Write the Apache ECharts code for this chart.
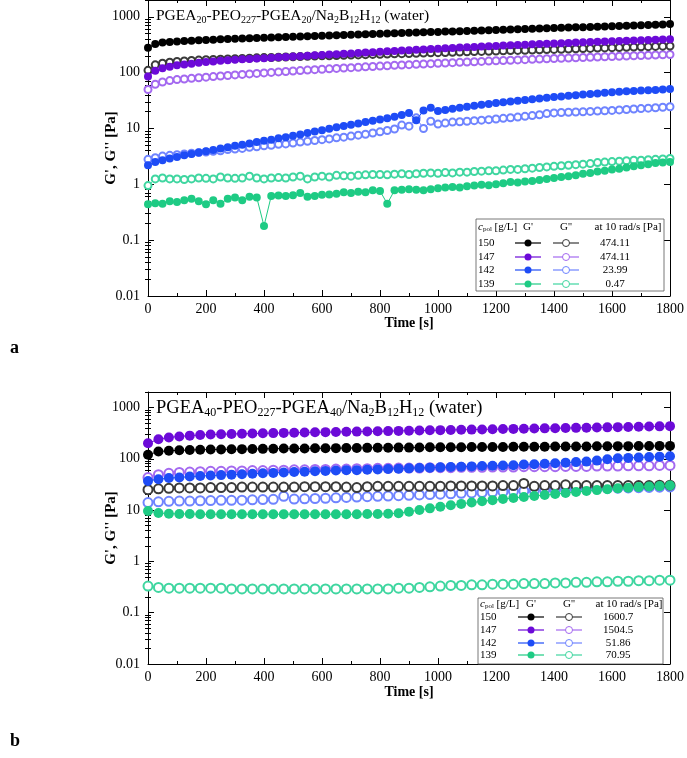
<!DOCTYPE html>
<html>
<head>
<meta charset="utf-8">
<script src="https://cdn.jsdelivr.net/npm/echarts@6.0.0/dist/echarts.min.js"></script>
<style>
  html, body { margin: 0; padding: 0; background: #fff; }
  #main { width: 687px; height: 758px; }
</style>
</head>
<body>
<div id="main"></div>
<script>
// ---- data (panel a: 25 s steps, panel b: 36 s steps) ----
var timeA = [0,25,50,75,100,125,150,175,200,225,250,275,300,325,350,375,400,425,450,475,500,525,550,575,
  600,625,650,675,700,725,750,775,800,825,850,875,900,925,950,975,1000,1025,1050,1075,1100,1125,1150,1175,
  1200,1225,1250,1275,1300,1325,1350,1375,1400,1425,1450,1475,1500,1525,1550,1575,1600,1625,1650,1675,
  1700,1725,1750,1775,1800];

var a150G1 = [280,325,345,355,362,368,374,380,385,390,395,400,
  405,410,414,419,423,428,432,437,441,446,450,455,
  460,464,469,473,478,483,488,492,497,502,507,512,
  517,522,527,532,537,543,548,553,559,564,570,575,
  581,587,592,598,604,610,616,622,628,634,641,647,
  653,660,667,673,680,687,694,701,708,716,723,731,
  740];
var a150G2 = [110,138,148,154,158,162,165,168,170,172,174,176,
  178,180,182,184,186,187,189,191,193,194,196,198,
  200,201,203,205,206,208,210,212,213,215,217,219,
  220,222,224,226,228,230,232,234,236,238,240,242,
  244,246,248,250,252,254,256,259,261,263,265,268,
  270,272,275,277,280,282,285,287,290,292,295,298,
  300];
var a147G1 = [85,108,120,128,135,140,145,150,155,159,163,167,
  170,173,176,179,182,185,188,191,194,197,200,204,
  207,211,214,218,221,225,229,233,237,241,245,249,
  253,257,261,265,269,273,277,281,285,289,293,297,
  301,305,309,313,317,321,325,329,333,337,341,345,
  349,353,357,361,365,369,373,377,381,385,389,393,
  397];
var a147G2 = [50,62,68,72,75,77,79,81,83,85,87,89,
  91,93,95,97,99,101,103,105,107,109,111,113,
  115,117,119,121,123,125,127,129,131,133,135,137,
  139,141,143,145,147,149,151,153,155,157,159,161,
  163,165,167,169,171,173,175,177,179,181,183,185,
  187,189,191,193,195,197,199,201,203,205,207,209,
  211];
var a142G1 = [2.2,2.5,2.7,2.9,3.1,3.3,3.5,3.7,3.9,4.1,4.4,4.6,
  4.9,5.1,5.4,5.7,6.0,6.3,6.7,7.0,7.4,7.8,8.3,8.8,
  9.3,9.9,10.5,11.1,11.7,12.3,13.0,13.7,14.5,15.3,16.3,17.5,
  19.0,14.0,21.0,23.5,20.5,21.5,22.5,23.5,24.5,25.5,26.5,27.5,
  28.5,29.5,30.5,31.5,32.5,33.5,34.5,35.5,36.5,37.5,38.5,39.5,
  40.5,41.5,42.5,43.5,44.5,45.5,46.5,47,48,48.5,49,50,
  51];
var a142G2 = [2.8,3.0,3.2,3.3,3.4,3.5,3.6,3.7,3.8,3.9,4.0,4.2,
  4.3,4.4,4.6,4.7,4.9,5.0,5.2,5.3,5.5,5.7,5.9,6.1,
  6.3,6.5,6.8,7.0,7.3,7.6,7.9,8.3,8.7,9.2,9.8,11.5,
  11.0,15.5,10.0,13.5,12.0,12.5,13.0,13.2,13.5,13.8,14.1,14.4,
  14.8,15.2,15.6,16.0,16.5,17.0,17.6,18.5,19.0,19.3,19.5,19.7,
  19.9,20.2,20.5,20.8,21.1,21.5,21.9,22.3,22.7,23.1,23.5,24.0,
  24.5];
var a139G1 = [0.44,0.46,0.45,0.5,0.48,0.52,0.55,0.5,0.44,0.52,0.45,0.55,
  0.58,0.52,0.6,0.58,0.18,0.62,0.63,0.62,0.64,0.7,0.6,0.62,
  0.65,0.66,0.68,0.72,0.7,0.74,0.72,0.78,0.76,0.45,0.78,0.8,
  0.82,0.8,0.78,0.82,0.85,0.88,0.9,0.88,0.92,0.95,0.98,0.96,
  1.0,1.05,1.1,1.08,1.12,1.15,1.2,1.25,1.3,1.35,1.4,1.45,
  1.55,1.6,1.7,1.75,1.85,1.9,2.0,2.1,2.2,2.3,2.4,2.45,
  2.5];
var a139G2 = [0.95,1.25,1.3,1.25,1.25,1.22,1.25,1.3,1.28,1.25,1.35,1.3,
  1.28,1.3,1.4,1.3,1.25,1.3,1.32,1.3,1.35,1.4,1.25,1.35,
  1.4,1.35,1.45,1.42,1.4,1.45,1.48,1.5,1.5,1.48,1.52,1.55,
  1.5,1.55,1.58,1.6,1.58,1.62,1.6,1.65,1.65,1.7,1.72,1.75,
  1.75,1.8,1.85,1.85,1.9,1.95,2.0,2.05,2.1,2.15,2.2,2.25,
  2.3,2.35,2.45,2.5,2.55,2.6,2.65,2.7,2.7,2.75,2.8,2.85,
  2.9];

var timeB = [0,36,72,108,144,180,216,252,288,324,360,396,432,468,504,540,576,612,648,684,
  720,756,792,828,864,900,936,972,1008,1044,1080,1116,1152,1188,1224,1260,1296,1332,1368,1404,
  1440,1476,1512,1548,1584,1620,1656,1692,1728,1764,1800];

var b150G1 = [120,138,143,146,148,150,151,152,153,154,
  155,156,157,158,158,159,160,160,161,162,
  162,163,164,164,165,165,166,167,167,168,
  168,169,169,170,170,171,171,172,172,173,
  173,174,174,175,175,176,176,177,177,178,
  178];
var b150G2 = [25,26,26.5,27,27,27,27.5,27.5,27.5,28,
  28,28,28,28,28,28.5,28.5,28.5,28.5,28,
  27.5,28.5,29,29,29,29,29,29,29,29.5,
  29.5,29.5,29.5,29.5,30,30,33,29,30,30,
  31,30,30,30,30,30,30,30,30,30.5,
  30.5];
var b147G1 = [200,240,260,272,282,290,296,300,304,307,
  310,313,316,319,322,325,328,330,333,336,
  338,341,344,346,349,352,355,358,361,364,
  367,370,373,376,379,382,385,388,391,394,
  397,400,403,406,409,413,416,420,424,428,
  432];
var b147G2 = [43,49,52,54,55,56,57,57,58,58,
  59,59,60,60,61,61,62,62,63,63,
  64,64,65,65,66,66,66,67,67,67,
  68,68,68,69,69,69,70,70,70,70,
  71,71,71,72,72,72,73,73,73,74,
  74];
var b142G1 = [37,40,42,43,45,46,47,48,49,50,
  51,52,53,54,55,56,57,58,59,60,
  60,61,62,63,64,65,66,67,68,69,
  70,71,72,73,74,75,77,78,80,82,
  84,86,88,92,98,102,104,106,108,110,
  112];
var b142G2 = [14,14.5,14.8,15,15,15.2,15.3,15.5,15.5,15.6,
  15.8,16,16.2,18.5,16.4,16.6,16.8,17,17.3,17.6,
  17.9,18.2,18.5,18.8,19.1,19.4,19.7,20,20.4,20.8,
  21.2,21.6,22,22.4,22.8,23.2,23.6,24,24.4,24.8,
  25.2,25.5,25.8,26.1,26.4,26.7,27,27.3,27.6,27.9,
  28.2];
var b139G1 = [9.6,8.8,8.5,8.4,8.4,8.3,8.3,8.3,8.3,8.3,
  8.3,8.3,8.3,8.3,8.3,8.3,8.3,8.3,8.3,8.3,
  8.3,8.4,8.4,8.5,8.7,9.3,10,10.8,11.6,12.4,
  13.2,14,14.8,15.6,16.4,17.2,18,18.8,19.6,20.5,
  21.5,22.5,23.5,24.5,25.5,26.5,27.3,28,28.7,29.3,
  30];
var b139G2 = [0.33,0.31,0.3,0.3,0.3,0.3,0.3,0.3,0.29,0.29,
  0.29,0.29,0.29,0.29,0.29,0.29,0.29,0.29,0.29,0.29,
  0.29,0.29,0.29,0.29,0.3,0.3,0.31,0.32,0.33,0.34,
  0.34,0.35,0.35,0.36,0.36,0.36,0.37,0.37,0.37,0.38,
  0.38,0.39,0.39,0.4,0.4,0.41,0.41,0.42,0.42,0.43,
  0.43];

// legend table
var concLabels = ['150', '147', '142', '139'];
var valsA = ['474.11', '474.11', '23.99', '0.47'];
var valsB = ['1600.7', '1504.5', '51.86', '70.95'];

// tick labels
var yTicks = [0.01, 0.1, 1, 10, 100, 1000];
var xTicks = [0, 200, 400, 600, 800, 1000, 1200, 1400, 1600, 1800];

// ---- styles ----
var FONT = '"Liberation Serif", "DejaVu Serif", serif';
var colFill = ['#000000', '#6c0ad8', '#1e4cf6', '#1ecb84'];
var colOpen = ['#3a3a3a', '#a469f0', '#6f84ff', '#3fd6a0'];

var yMinor = [];
yTicks.forEach(function (d) {
  for (var k = 2; k <= 9; k++) yMinor.push(+(d * k).toPrecision(3));
});

var myChart = echarts.init(document.getElementById('main'));

function pairs(ts, vs) {
  return ts.map(function (t, i) { return [t, vs[i]]; });
}

function xAxesFor(grid, gap) {
  var common = {
    gridIndex: grid, type: 'value', min: 0, max: 1800, interval: 200,
    axisLine: { show: true, onZero: false, lineStyle: { color: '#000', width: 1 } },
    axisTick: { show: true, inside: true, length: 6, lineStyle: { color: '#000' } },
    minorTick: { show: true, splitNumber: 2, length: 3, lineStyle: { color: '#000' } },
    splitLine: { show: false }
  };
  return [
    Object.assign({}, common, {
      position: 'bottom',
      axisLabel: {
        color: '#000', fontFamily: FONT, fontSize: 14, margin: 6,
        customValues: xTicks,
        formatter: function (v) { return String(v); }
      },
      name: 'Time [s]', nameLocation: 'middle', nameGap: gap, nameMoveOverlap: false,
      nameTextStyle: { color: '#000', fontFamily: FONT, fontSize: 14, fontWeight: 'bold' }
    }),
    Object.assign({}, common, { position: 'top', axisLabel: { show: false } })
  ];
}

function yAxesFor(grid, max) {
  var base = {
    gridIndex: grid, type: 'log', logBase: 10, min: 0.01, max: max,
    splitLine: { show: false }
  };
  var line = { show: true, onZero: false, lineStyle: { color: '#000', width: 1 } };
  var major = { show: true, inside: true, length: 6, customValues: yTicks, lineStyle: { color: '#000' } };
  var minor = { show: true, inside: true, length: 3, customValues: yMinor, lineStyle: { color: '#000' } };
  return [
    Object.assign({}, base, {
      position: 'left', axisLine: line, axisTick: major,
      axisLabel: {
        color: '#000', fontFamily: FONT, fontSize: 14, margin: 8,
        customValues: yTicks,
        formatter: function (v) { return String(+(+v).toPrecision(3)); }
      },
      name: "G', G'' [Pa]", nameLocation: 'middle', nameRotate: 90, nameGap: 29, nameMoveOverlap: false,
      nameTextStyle: { color: '#000', fontFamily: FONT, fontSize: 15, fontWeight: 'bold' }
    }),
    Object.assign({}, base, { position: 'left', axisLine: { show: false }, axisTick: minor, axisLabel: { show: false } }),
    Object.assign({}, base, { position: 'right', axisLine: line, axisTick: major, axisLabel: { show: false } }),
    Object.assign({}, base, { position: 'right', axisLine: { show: false }, axisTick: minor, axisLabel: { show: false } })
  ];
}

function makeSeries(ts, arrs, xi, yi, sizeF, sizeO) {
  var out = [];
  // open symbols (G'') first, filled (G') on top
  for (var i = 3; i >= 0; i--) {
    out.push({
      type: 'line', xAxisIndex: xi, yAxisIndex: yi,
      data: pairs(ts, arrs[i][1]),
      symbol: 'emptyCircle', symbolSize: sizeO, showSymbol: true,
      lineStyle: { color: colOpen[i], width: 1 },
      itemStyle: { color: colOpen[i], borderWidth: 1.2 },
      z: 2
    });
  }
  for (var j = 3; j >= 0; j--) {
    out.push({
      type: 'line', xAxisIndex: xi, yAxisIndex: yi,
      data: pairs(ts, arrs[j][0]),
      symbol: 'circle', symbolSize: sizeF, showSymbol: true,
      lineStyle: { color: colFill[j], width: 1 },
      itemStyle: { color: colFill[j] },
      z: 3
    });
  }
  return out;
}

var seriesA = makeSeries(timeA, [[a150G1, a150G2], [a147G1, a147G2], [a142G1, a142G2], [a139G1, a139G2]], 0, 0, 8, 7);
var seriesB = makeSeries(timeB, [[b150G1, b150G2], [b147G1, b147G2], [b142G1, b142G2], [b139G1, b139G2]], 2, 4, 10, 9);

// legend table drawn as graphic (box, header, sample line+symbol, value)
function legendTable(L, vals) {
  var els = [];
  els.push({ type: 'rect', shape: { x: L.box[0], y: L.box[1], width: L.box[2], height: L.box[3] },
    style: { fill: '#fff', stroke: '#555', lineWidth: 0.8 }, z: 10 });
  els.push({ type: 'text', x: L.colLab, y: L.head, z: 11,
    style: { text: '{i|c}{s|pol} [g/L]', fill: '#000', font: '11px ' + FONT, verticalAlign: 'middle',
      rich: { i: { fontStyle: 'italic', fontFamily: FONT, fontSize: 11 }, s: { fontFamily: FONT, fontSize: 7, lineHeight: 7, padding: [5, 0, 0, 0] } } } });
  els.push({ type: 'text', x: L.colF, y: L.head, z: 11, style: { text: "G'", fill: '#000', font: '11px ' + FONT, align: 'center', verticalAlign: 'middle' } });
  els.push({ type: 'text', x: L.colO, y: L.head, z: 11, style: { text: "G''", fill: '#000', font: '11px ' + FONT, align: 'center', verticalAlign: 'middle' } });
  els.push({ type: 'text', x: L.colHead, y: L.head, z: 11, style: { text: 'at 10 rad/s [Pa]', fill: '#000', font: '11px ' + FONT, align: 'center', verticalAlign: 'middle' } });
  L.rows.forEach(function (ry, i) {
    els.push({ type: 'text', x: L.colLab, y: ry, z: 11, style: { text: concLabels[i], fill: '#000', font: '11px ' + FONT, verticalAlign: 'middle' } });
    els.push({ type: 'line', z: 11, shape: { x1: L.colF - L.half, y1: ry, x2: L.colF + L.half, y2: ry }, style: { stroke: colFill[i], lineWidth: 1.2 } });
    els.push({ type: 'circle', z: 12, shape: { cx: L.colF, cy: ry, r: L.r }, style: { fill: colFill[i] } });
    els.push({ type: 'line', z: 11, shape: { x1: L.colO - L.half, y1: ry, x2: L.colO + L.half, y2: ry }, style: { stroke: colOpen[i], lineWidth: 1.2 } });
    els.push({ type: 'circle', z: 12, shape: { cx: L.colO, cy: ry, r: L.r }, style: { fill: '#fff', stroke: colOpen[i], lineWidth: 1 } });
    els.push({ type: 'text', x: L.colVal, y: ry, z: 11, style: { text: vals[i], fill: '#000', font: '11px ' + FONT, align: 'center', verticalAlign: 'middle' } });
  });
  return els;
}

function title(x, y, n, size) {
  var sub = Math.round(size * 0.66);
  return {
    type: 'text', x: x, y: y, z: 11,
    style: {
      text: 'PGEA{s|' + n + '}-PEO{s|227}-PGEA{s|' + n + '}/Na{s|2}B{s|12}H{s|12} (water)',
      fill: '#000', font: size + 'px ' + FONT, verticalAlign: 'middle',
      rich: { s: { fontFamily: FONT, fontSize: sub, lineHeight: sub, padding: [Math.round(size * 0.5), 0, 0, 0] } }
    }
  };
}

var graphics = [
  title(156, 16, '20', 15.5),
  title(156, 408, '40', 18.5),
  { type: 'text', x: 10, y: 348, style: { text: 'a', fill: '#000', font: 'bold 18px ' + FONT, verticalAlign: 'middle' } },
  { type: 'text', x: 10, y: 741, style: { text: 'b', fill: '#000', font: 'bold 18px ' + FONT, verticalAlign: 'middle' } }
].concat(
  legendTable({ box: [476, 219, 188, 72], head: 227, rows: [243, 257, 270, 284],
    colLab: 478, colF: 528, colO: 566, colHead: 628, colVal: 615, half: 13, r: 3.5 }, valsA),
  legendTable({ box: [478, 598, 185, 66], head: 604, rows: [617, 630, 643, 655],
    colLab: 480, colF: 531, colO: 569, colHead: 629, colVal: 618, half: 13, r: 3.5 }, valsB)
);

var option = {
  animation: false,
  backgroundColor: '#fff',
  grid: [
    { left: 148, top: 0, width: 524, height: 296 },
    { left: 148, top: 392, width: 524, height: 272 }
  ],
  xAxis: xAxesFor(0, 20).concat(xAxesFor(1, 21)),
  yAxis: yAxesFor(0, 2000).concat(yAxesFor(1, 2000)),
  graphic: graphics,
  series: seriesA.concat(seriesB)
};
myChart.setOption(option);
console.log("chart options set");
</script>
</body>
</html>
